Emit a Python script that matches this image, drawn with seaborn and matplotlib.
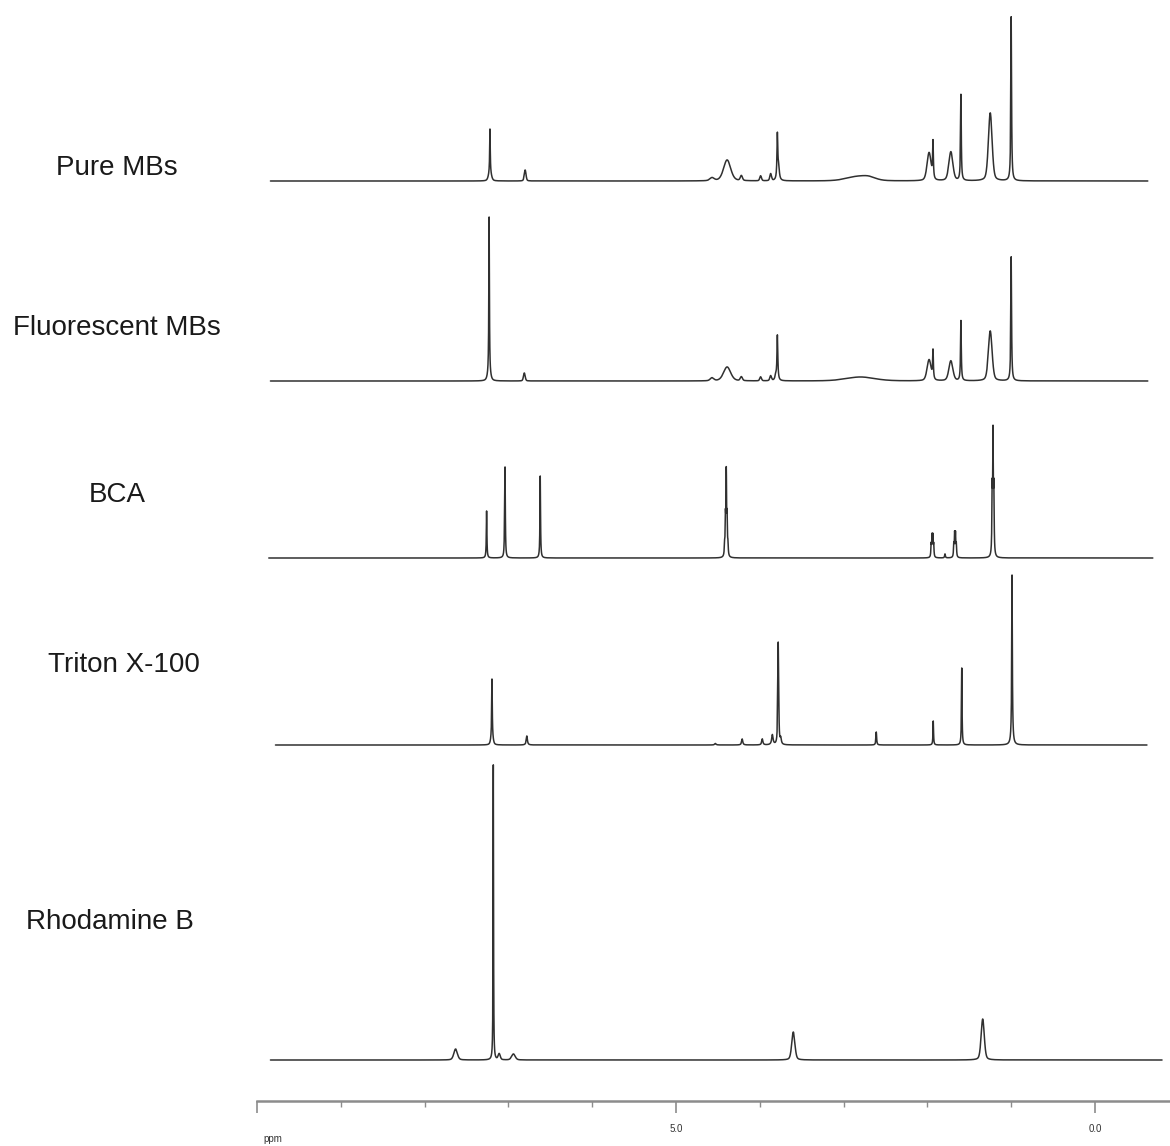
import numpy as np
import pandas as pd
import matplotlib
matplotlib.use("Agg")
import matplotlib.pyplot as plt
import seaborn as sns
from matplotlib.ticker import FixedLocator, FixedFormatter

# ---------------- data (peak parameters) ----------------
samples = ["Pure MBs", "Fluorescent MBs", "BCA", "Triton X-100", "Rhodamine B"]

pure_ppm = [7.22, 7.22, 6.80, 4.57, 4.39, 4.22, 3.99, 3.87, 3.79, 3.775, 2.85, 2.70,
            1.98, 1.933, 1.72, 1.60, 1.25, 1.00]
pure_height = [44, 8, 11, 3, 21, 5, 5, 7, 45, 12, 4, 3,
               28, 36, 29, 86, 68, 164]
pure_width = [0.004, 0.02, 0.012, 0.03, 0.05, 0.015, 0.012, 0.012, 0.006, 0.01, 0.15, 0.1,
              0.028, 0.005, 0.028, 0.005, 0.026, 0.005]

fluo_ppm = [7.23, 7.23, 6.81, 4.57, 4.39, 4.22, 3.99, 3.87, 3.79, 3.81, 2.80,
            1.98, 1.933, 1.72, 1.60, 1.25, 1.00]
fluo_height = [158, 6, 8, 3, 14, 4, 4, 5, 45, 5, 4,
               21, 28, 20, 60, 50, 124]
fluo_width = [0.004, 0.02, 0.012, 0.025, 0.05, 0.015, 0.012, 0.012, 0.006, 0.01, 0.2,
              0.028, 0.005, 0.028, 0.005, 0.026, 0.005]

bca_ppm = [7.26, 7.04, 7.045, 6.62, 4.40, 4.39, 4.41, 4.38, 4.42,
           1.925, 1.935, 1.945, 1.955, 1.79,
           1.655, 1.665, 1.675, 1.685, 1.207, 1.217, 1.227]
bca_height = [47, 84, 18, 82, 81, 35, 35, 10, 10,
              12, 20, 20, 12, 4,
              12, 22, 22, 12, 61, 116, 61]
bca_width = [0.004, 0.004, 0.004, 0.004, 0.004, 0.004, 0.004, 0.004, 0.004,
             0.004, 0.004, 0.004, 0.004, 0.005,
             0.004, 0.004, 0.004, 0.004, 0.004, 0.004, 0.004]

triton_ppm = [7.196, 7.196, 6.78, 4.53, 4.21, 3.97, 3.85, 3.78, 3.775, 3.785, 3.75,
              2.61, 1.93, 1.59, 0.99, 0.99]
triton_height = [58, 8, 9, 1.5, 6, 6, 10, 75, 35, 35, 6,
                 13, 24, 77, 150, 20]
triton_width = [0.004, 0.015, 0.008, 0.01, 0.008, 0.008, 0.01, 0.004, 0.004, 0.004, 0.008,
                0.005, 0.004, 0.004, 0.004, 0.01]

rhod_ppm = [7.63, 7.18, 7.11, 6.94, 3.60, 1.34]
rhod_height = [11, 295, 6, 6, 28, 41]
rhod_width = [0.025, 0.003, 0.015, 0.025, 0.022, 0.022]

ppm_start = [9.84, 9.84, 9.86, 9.78, 9.84]
ppm_end = [-0.63, -0.63, -0.69, -0.62, -0.80]

# ---------------- layout (pixel-like units, y measured from the bottom) -------
W, H = 1170, 1146
baselines = [965, 765, 588, 401, 86]
label_xy = [(117, 978), (117, 818), (117, 651), (124, 481), (110, 224)]
axis_y = 45
px_per_ppm = 83.8
x_zero_px = 1095

peaks = [
    (pure_ppm, pure_height, pure_width),
    (fluo_ppm, fluo_height, fluo_width),
    (bca_ppm, bca_height, bca_width),
    (triton_ppm, triton_height, triton_width),
    (rhod_ppm, rhod_height, rhod_width),
]

frames = []
for name, (c, h, w), base, p0, p1 in zip(samples, peaks, baselines, ppm_start, ppm_end):
    x = np.arange(p1, p0, 0.0005)
    x = np.sort(np.concatenate([x, np.array(c)]))
    y = np.zeros_like(x)
    for ci, hi, wi in zip(c, h, w):
        eta = 1.0 if wi <= 0.01 else 0.35
        lor = wi ** 2 / ((x - ci) ** 2 + wi ** 2)
        gau = np.exp(-np.log(2) * (x - ci) ** 2 / wi ** 2)
        y += hi * (eta * lor + (1 - eta) * gau)
    frames.append(pd.DataFrame({"ppm": x, "y": y + base, "sample": name}))
df = pd.concat(frames, ignore_index=True)

sns.set_theme(style="white")
plt.rcParams["font.family"] = ["Liberation Sans", "DejaVu Sans"]

fig = plt.figure(figsize=(W / 100, H / 100), dpi=100)
ax = fig.add_axes([0, 0, 1, 1])
sns.lineplot(data=df, x="ppm", y="y", units="sample", estimator=None, sort=False,
             color="#303030", linewidth=1.1, ax=ax, legend=False)

left_ppm = x_zero_px / px_per_ppm
right_ppm = (x_zero_px - W) / px_per_ppm
ax.set_xlim(left_ppm, right_ppm)
ax.set_ylim(0, H)

for name, (lx, ly) in zip(samples, label_xy):
    x_ppm = (x_zero_px - lx) / px_per_ppm
    ax.text(x_ppm, ly, name, ha="center", va="center", fontsize=20, color="#1a1a1a")

for s in ["left", "top", "right"]:
    ax.spines[s].set_visible(False)
ax.spines["bottom"].set_position(("data", axis_y))
ax.spines["bottom"].set_bounds(10.0, right_ppm)
ax.spines["bottom"].set_color("#8c8c8c")
ax.spines["bottom"].set_linewidth(1.8)
ax.set_yticks([])
ax.set_xlabel("")
ax.set_ylabel("")
ax.xaxis.set_major_locator(FixedLocator([10.0, 5.0, 0.0]))
ax.xaxis.set_major_formatter(FixedFormatter(["", "5.0", "0.0"]))
ax.xaxis.set_minor_locator(FixedLocator([9, 8, 7, 6, 4, 3, 2, 1]))
ax.tick_params(axis="x", which="major", direction="out", length=8.5, width=1.2,
               color="#8c8c8c", labelsize=7, labelcolor="#333333", pad=8, bottom=True)
ax.tick_params(axis="x", which="minor", direction="out", length=4.5, width=1.0,
               color="#8c8c8c", bottom=True)
ax.text((x_zero_px - 273) / px_per_ppm, H - 1139, "ppm", ha="center", va="center",
        fontsize=7, color="#333333")

fig.savefig("out.png", dpi=100, facecolor="white")
